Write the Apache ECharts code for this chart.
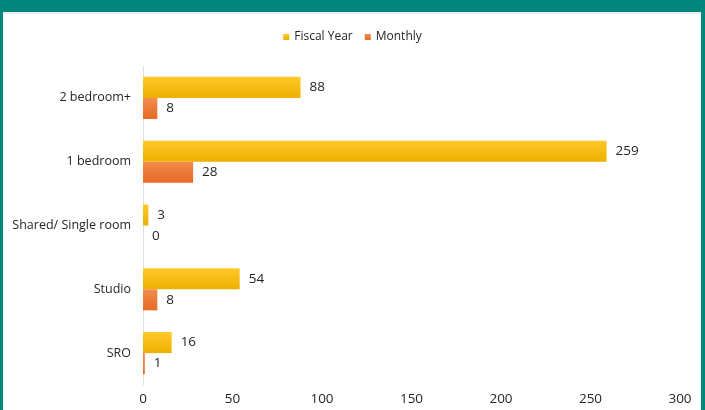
<!DOCTYPE html>
<html><head><meta charset="utf-8">
<script src="https://cdn.jsdelivr.net/npm/echarts@6/dist/echarts.min.js"></script>
<style>
html,body{margin:0;padding:0;background:#fff;}
#wrap{position:relative;width:705px;height:410px;overflow:hidden;}
#chart{position:absolute;left:0;top:0;width:705px;height:410px;}
.b{position:absolute;background:#00877C;}
</style></head>
<body>
<div id="wrap">
<div id="chart"></div>
<div class="b" style="left:0;top:0;width:705px;height:12px;"></div>
<div style="position:absolute;left:0;top:12px;width:705px;height:2px;background:#e6eef0;"></div>
<div class="b" style="left:0;top:12px;width:3px;height:398px;"></div>
<div class="b" style="left:701px;top:12px;width:4px;height:398px;"></div>
</div>
<script>
const categories = ['2 bedroom+', '1 bedroom', 'Shared/ Single room', 'Studio', 'SRO'];
const fiscalYear = [88, 259, 3, 54, 16];
const monthly = [8, 28, 0, 8, 1];
const xTicks = { min: 0, max: 300, interval: 50 };

const chart = echarts.init(document.getElementById('chart'));
const labelStyle = { show: true, position: 'right', distance: 9, color: '#262626', fontSize: 13.5, fontFamily: 'Open Sans' };
chart.setOption({
  animation: false,
  textStyle: { fontFamily: 'Open Sans' },
  legend: {
    top: 26, left: 'center', itemWidth: 6, itemHeight: 6, itemGap: 12,
    icon: 'rect',
    textStyle: { fontSize: 12, color: '#262626', fontFamily: 'Open Sans' },
    data: ['Fiscal Year', 'Monthly']
  },
  grid: { left: 143, right: 25, top: 66, bottom: 25, containLabel: false },
  xAxis: {
    type: 'value', min: xTicks.min, max: xTicks.max, interval: xTicks.interval,
    axisLine: { show: false }, axisTick: { show: false }, splitLine: { show: false },
    axisLabel: { color: '#262626', fontSize: 13.5, margin: 7 }
  },
  yAxis: {
    type: 'category', data: categories, inverse: true,
    axisLine: { show: true, lineStyle: { color: '#dbe3ea', width: 1 } },
    axisTick: { show: false },
    axisLabel: { color: '#262626', fontSize: 12.5, margin: 12 }
  },
  series: [
    {
      name: 'Fiscal Year', type: 'bar', data: fiscalYear, barGap: '0%', barCategoryGap: '34%',
      itemStyle: { color: new echarts.graphic.LinearGradient(0, 0, 0, 1, [
        { offset: 0, color: '#FFC928' }, { offset: 1, color: '#EDB000' }]) },
      label: labelStyle
    },
    {
      name: 'Monthly', type: 'bar', data: monthly,
      itemStyle: { color: new echarts.graphic.LinearGradient(0, 0, 0, 1, [
        { offset: 0, color: '#F28C4E' }, { offset: 1, color: '#E56A25' }]) },
      label: labelStyle
    }
  ]
});
</script>
</body></html>
